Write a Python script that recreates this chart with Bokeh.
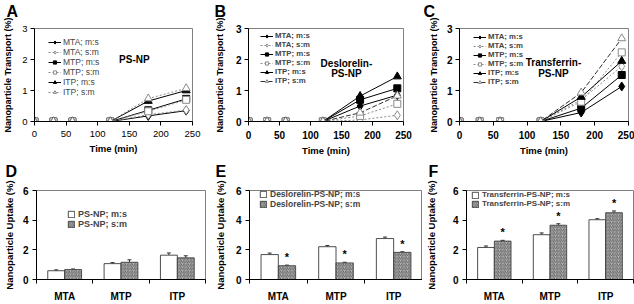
from bokeh.plotting import figure
from bokeh.layouts import column, row
from bokeh.models import (Range1d, FixedTicker, Legend, LegendItem, Title,
                          ColumnDataSource, Whisker, TeeHead)
from bokeh.core.properties import value
from bokeh.embed import file_html
from bokeh.resources import INLINE

FONT = "Liberation Sans"

# ---------------- data ----------------
times = [0, 30, 60, 120, 180, 240]
series_labels = ["MTA; m:s", "MTA; s:m", "MTP; m:s", "MTP; s:m", "ITP; m:s", "ITP; s:m"]

# Panel A: PS-NP
a_mta_ms = [0, 0, 0, 0, 0.18, 0.35]
a_mta_sm = [0, 0, 0, 0, 0.22, 0.37]
a_mtp_ms = [0, 0, 0, 0, 0.36, 0.73]
a_mtp_sm = [0, 0, 0, 0, 0.33, 0.70]
a_itp_ms = [0, 0, 0, 0, 0.66, 1.00]
a_itp_sm = [0, 0, 0, 0, 0.74, 1.07]

# Panel B: Deslorelin-PS-NP
b_mta_ms = [0, 0, 0, 0, 0.50, 0.85]
b_mta_sm = [0, 0, 0, 0, 0.05, 0.20]
b_mtp_ms = [0, 0, 0, 0, 0.70, 1.07]
b_mtp_sm = [0, 0, 0, 0, 0.18, 0.57]
b_itp_ms = [0, 0, 0, 0, 0.82, 1.45]
b_itp_sm = [0, 0, 0, 0, 0.28, 0.83]

# Panel C: Transferrin-PS-NP
c_mta_ms = [0, 0, 0, 0, 0.29, 1.13]
c_mta_sm = [0, 0, 0, 0, 0.70, 1.78]
c_mtp_ms = [0, 0, 0, 0, 0.43, 1.50]
c_mtp_sm = [0, 0, 0, 0, 0.64, 2.23]
c_itp_ms = [0, 0, 0, 0, 0.79, 1.95]
c_itp_sm = [0, 0, 0, 0, 0.93, 2.68]

regions = ["MTA", "MTP", "ITP"]

# Panel D: PS-NP uptake
d_ms = [0.59, 1.07, 1.64]
d_ms_err = [0.06, 0.07, 0.15]
d_sm = [0.67, 1.16, 1.46]
d_sm_err = [0.04, 0.17, 0.14]

# Panel E: Deslorelin-PS-NP uptake
e_ms = [1.68, 2.21, 2.76]
e_ms_err = [0.10, 0.08, 0.10]
e_sm = [0.93, 1.12, 1.83]
e_sm_err = [0.04, 0.04, 0.04]

# Panel F: Transferrin-PS-NP uptake
f_ms = [2.16, 3.02, 4.03]
f_ms_err = [0.10, 0.12, 0.07]
f_sm = [2.59, 3.66, 4.50]
f_sm_err = [0.05, 0.10, 0.12]


def base_fig(width, height, left, right, top, bottom, xr, yr, letter_txt, line_h):
    p = figure(width=width, height=height, x_range=xr, y_range=yr,
               min_border_left=left, min_border_right=right,
               min_border_top=top, min_border_bottom=bottom,
               output_backend="svg", toolbar_location=None, title=None)
    p.add_layout(Title(text=letter_txt + "\n\u00a0", align="left", offset=-(left - 1),
                       text_font=FONT, text_font_size="16px", text_font_style="bold",
                       text_color="black", text_line_height=line_h, standoff=0), "above")
    p.xgrid.visible = False
    p.ygrid.visible = False
    p.outline_line_color = "#808080"
    p.outline_line_width = 1
    p.background_fill_color = "white"
    p.border_fill_color = "white"
    for ax in (p.xaxis[0], p.yaxis[0]):
        ax.axis_line_color = "black"
        ax.major_tick_line_color = "black"
        ax.minor_tick_line_color = None
        ax.major_tick_in = 0
        ax.major_tick_out = 4
        ax.major_label_text_font = FONT
        ax.axis_label_text_font = FONT
        ax.axis_label_text_font_style = "bold"
        ax.axis_label_text_color = "black"
        ax.major_label_text_color = "black"
    return p


def top_panel(width, left, right, ys, bold, itp_dashed, notes, note_x, note_y,
              yl_standoff, leg_loc, leg_font, letter_txt):
    p = base_fig(width, 158, left, right, 26, 37, Range1d(0, 250), Range1d(0, 3),
                 letter_txt, 0.5)
    p.xaxis.ticker = FixedTicker(ticks=[0, 50, 100, 150, 200, 250])
    p.yaxis.ticker = FixedTicker(ticks=[0, 1, 2, 3])
    style = "bold" if bold else "normal"
    p.xaxis.major_label_text_font_style = style
    p.yaxis.major_label_text_font_style = style
    p.xaxis.major_label_text_font_size = "10px" if bold else "9.5px"
    p.yaxis.major_label_text_font_size = "10px" if bold else "9.5px"
    p.xaxis.major_label_standoff = 5
    p.yaxis.major_label_standoff = 3
    p.xaxis.axis_label = "Time (min)"
    p.yaxis.axis_label = "Nanoparticle Transport (%)"
    p.xaxis.axis_label_text_font_size = "9.5px"
    p.yaxis.axis_label_text_font_size = "9px"
    p.xaxis.axis_label_standoff = 3
    p.yaxis.axis_label_standoff = yl_standoff

    markers = ["diamond", "diamond", "square", "square", "triangle", "triangle"]
    sizes = [9, 9, 7, 7, 8, 8]
    items = []
    for i, (lab, y) in enumerate(zip(series_labels, ys)):
        filled = (i % 2 == 0)
        if filled:
            lc, dash, mfill, mline = "black", "solid", "black", "black"
        else:
            lc, dash, mfill, mline = "#8a8a8a", "2 2", "white", "#8a8a8a"
            if i == 5 and itp_dashed:
                lc, dash = "#303030", "5 2"
        r1 = p.line(times, y, line_color=lc, line_dash=dash, line_width=1)
        r2 = p.scatter(times, y, marker=markers[i], size=sizes[i],
                       fill_color=mfill, line_color=mline, line_width=1)
        items.append(LegendItem(label=lab, renderers=[r1, r2]))
    leg = Legend(items=items, location=leg_loc, padding=2, margin=0, spacing=0,
                 glyph_width=13, glyph_height=8, label_height=8, label_standoff=2,
                 label_text_font=FONT, label_text_font_style=style,
                 label_text_font_size=leg_font, border_line_color=None,
                 background_fill_alpha=0)
    p.add_layout(leg)
    p.text(x=[note_x] * len(notes), y=note_y, text=notes,
           text_font=value(FONT), text_font_style="bold", text_font_size="10px",
           text_align="center", text_baseline="middle", text_color="black")
    return p


def bar_panel(width, left, right, ms, ms_err, sm, sm_err, lab_ms, lab_sm, stars,
              yl_standoff, leg_loc, leg_font, letter_txt):
    p = base_fig(width, 146, left, right, 32, 19, Range1d(0, 3), Range1d(0, 6),
                 letter_txt, 0.6)
    centers = [i + 0.5 for i in range(len(regions))]
    p.xaxis.ticker = FixedTicker(ticks=centers, minor_ticks=[0, 1, 2, 3])
    p.xaxis.major_label_overrides = {c: r for c, r in zip(centers, regions)}
    p.xaxis.major_tick_out = 0
    p.xaxis.minor_tick_line_color = "black"
    p.xaxis.minor_tick_out = 4
    p.xaxis.minor_tick_in = 0
    p.xaxis.major_label_text_font_style = "bold"
    p.xaxis.major_label_text_font_size = "10px"
    p.xaxis.major_label_standoff = 7
    p.yaxis.ticker = FixedTicker(ticks=[0, 2, 4, 6])
    p.yaxis.major_label_text_font_style = "bold"
    p.yaxis.major_label_text_font_size = "10px"
    p.yaxis.major_label_standoff = 4
    p.yaxis.axis_label = "Nanoparticle Uptake (%)"
    p.yaxis.axis_label_text_font_size = "9.5px"
    p.yaxis.axis_label_standoff = yl_standoff

    x_ms = [c - 0.15 for c in centers]
    x_sm = [c + 0.15 for c in centers]
    r1 = p.vbar(x=x_ms, top=ms, width=0.3, fill_color="white", line_color="#222222",
                line_width=0.8)
    r2 = p.vbar(x=x_sm, top=sm, width=0.3, fill_color="#b8b8b8", line_color="#333333",
                line_width=0.8, hatch_pattern="right_diagonal_line", hatch_color="#4a4a4a",
                hatch_scale=3.5, hatch_weight=0.8)
    for xs, v, e in ((x_ms, ms, ms_err), (x_sm, sm, sm_err)):
        src = ColumnDataSource(dict(x=xs, lo=v, hi=[a + b for a, b in zip(v, e)]))
        p.add_layout(Whisker(base="x", lower="lo", upper="hi", source=src,
                             line_color="#333333", line_width=1,
                             lower_head=None,
                             upper_head=TeeHead(size=4, line_color="#333333", line_width=1)))
    if stars:
        p.text(x=x_sm, y=[a + b for a, b in zip(sm, sm_err)], text=["*"] * len(x_sm),
               text_font=value(FONT), text_font_style="bold", text_font_size="11px",
               text_align="center", text_baseline="bottom", y_offset=-2, text_color="black")
    leg = Legend(items=[LegendItem(label=lab_ms, renderers=[r1]),
                        LegendItem(label=lab_sm, renderers=[r2])],
                 location=leg_loc, padding=2, margin=0, spacing=0,
                 glyph_width=8, glyph_height=8, label_height=9, label_standoff=3,
                 label_text_font=FONT, label_text_font_style="bold",
                 label_text_font_size=leg_font, border_line_color=None,
                 background_fill_alpha=0)
    p.add_layout(leg)
    return p


pA = top_panel(211, 29, 19, [a_mta_ms, a_mta_sm, a_mtp_ms, a_mtp_sm, a_itp_ms, a_itp_sm],
               False, False, ["PS-NP"], 158, [2.0], 6, (14, 24), "8.5px", "A")
pB = top_panel(211, 35, 19, [b_mta_ms, b_mta_sm, b_mtp_ms, b_mtp_sm, b_itp_ms, b_itp_sm],
               True, True, ["Deslorelin-", "PS-NP"], 158, [1.87, 1.54], 8, (12, 36), "7.8px", "B")
pC = top_panel(212, 37, 6, [c_mta_ms, c_mta_sm, c_mtp_ms, c_mtp_sm, c_itp_ms, c_itp_sm],
               True, True, ["Transferrin-", "PS-NP"], 139, [1.9, 1.55], 5, (14, 35), "7.8px", "C")

pD = bar_panel(211, 32, 6, d_ms, d_ms_err, d_sm, d_sm_err,
               "PS-NP; m:s", "PS-NP; s:m", False, 5, (31, 50), "9px", "D")
pE = bar_panel(211, 35, 0, e_ms, e_ms_err, e_sm, e_sm_err,
               "Deslorelin-PS-NP; m:s", "Deslorelin-PS-NP; s:m", True, 7, (10, 70), "8.5px", "E")
pF = bar_panel(212, 39, 1, f_ms, f_ms_err, f_sm, f_sm_err,
               "Transferrin-PS-NP; m:s", "Transferrin-PS-NP; s:m", True, 13, (5, 71), "8px", "F")

layout = column(row(pA, pB, pC), row(pD, pE, pF))
open("out.html", "w").write(file_html(layout, INLINE))
